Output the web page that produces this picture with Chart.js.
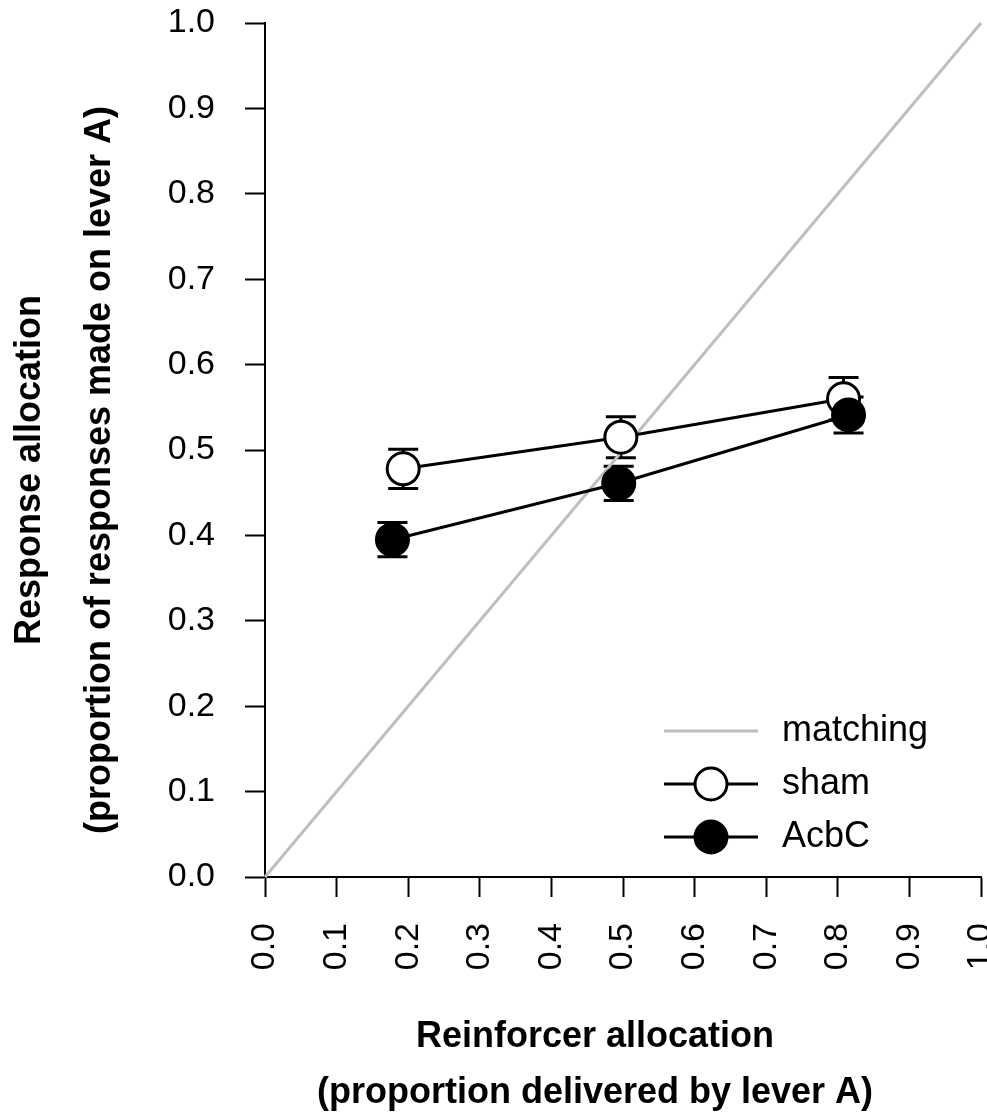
<!DOCTYPE html>
<html>
<head>
<meta charset="utf-8">
<script src="https://cdn.jsdelivr.net/npm/chart.js@4"></script>
<style>
  body { margin: 0; background: #fff; overflow: hidden; }
  canvas { display: block; }
</style>
</head>
<body>
<!-- a bit wider than the window so the x scale can run to x=980; the "1.0" label gets cut at the edge like the original -->
<canvas id="matchChart" width="1000" height="1117"></canvas>
<script>
// values
const shamReinforcer = [0.193, 0.497, 0.808];
const shamResponse = [0.478, 0.515, 0.560];
const shamErr = [0.023, 0.024, 0.025];

const acbcReinforcer = [0.178, 0.494, 0.815];
const acbcResponse = [0.395, 0.461, 0.541];
const acbcErr = [0.020, 0.020, 0.021];

const matchingX = [0, 1];
const matchingY = [0, 1];

const axisMin = 0;
const axisMax = 1;
const tickStep = 0.1;

const xTitle = ['Reinforcer allocation', '(proportion delivered by lever A)'];
const yTitle = ['Response allocation', '(proportion of responses made on lever A)'];

const FONT = '"Liberation Sans", Arial, Helvetica, sans-serif';

const toPoints = (xs, ys) => xs.map((x, i) => ({ x: x, y: ys[i] }));

// error bars, drawn under the points
const errorBars = {
    id: 'errorBars',
    beforeDatasetsDraw(chart) {
        const { ctx, scales: { x, y } } = chart;
        const groups = [
            [shamReinforcer, shamResponse, shamErr],
            [acbcReinforcer, acbcResponse, acbcErr]
        ];
        ctx.save();
        ctx.strokeStyle = '#000';
        ctx.lineWidth = 3;
        groups.forEach(([xs, ys, es]) => {
            xs.forEach((v, i) => {
                const px = x.getPixelForValue(v);
                const top = y.getPixelForValue(ys[i] + es[i]);
                const bot = y.getPixelForValue(ys[i] - es[i]);
                ctx.beginPath();
                ctx.moveTo(px, top); ctx.lineTo(px, bot);
                ctx.moveTo(px - 15, top); ctx.lineTo(px + 15, top);
                ctx.moveTo(px - 15, bot); ctx.lineTo(px + 15, bot);
                ctx.stroke();
            });
        });
        ctx.restore();
    }
};

// two-line axis titles, placed like the original figure
const axisTitles = {
    id: 'axisTitles',
    afterDraw(chart) {
        const ctx = chart.ctx;
        ctx.save();
        ctx.fillStyle = '#000';
        ctx.font = 'bold 36px ' + FONT;
        ctx.textAlign = 'center';
        ctx.textBaseline = 'middle';
        xTitle.forEach((t, i) => ctx.fillText(t, 595, 1037 + i * 56));
        ctx.translate(0, 470);
        ctx.rotate(-Math.PI / 2);
        yTitle.forEach((t, i) => ctx.fillText(t, 0, 30 + i * 70));
        ctx.restore();
    }
};

// legend in the lower right of the plot
const cornerLegend = {
    id: 'cornerLegend',
    afterDraw(chart) {
        const ctx = chart.ctx;
        const x0 = 664, x1 = 758, tx = 782;
        const rows = [
            { label: 'matching', y: 731, color: '#bebebe', point: null },
            { label: 'sham', y: 784, color: '#000', point: '#fff' },
            { label: 'AcbC', y: 837, color: '#000', point: '#000' }
        ];
        ctx.save();
        rows.forEach(r => {
            ctx.strokeStyle = r.color;
            ctx.lineWidth = 3;
            ctx.beginPath();
            ctx.moveTo(x0, r.y); ctx.lineTo(x1, r.y);
            ctx.stroke();
            if (r.point) {
                ctx.beginPath();
                ctx.arc((x0 + x1) / 2, r.y, 16, 0, Math.PI * 2);
                ctx.fillStyle = r.point;
                ctx.fill();
                ctx.strokeStyle = '#000';
                ctx.stroke();
            }
            ctx.fillStyle = '#000';
            ctx.font = '36px ' + FONT;
            ctx.textAlign = 'left';
            ctx.textBaseline = 'middle';
            ctx.fillText(r.label, tx, r.y);
        });
        ctx.restore();
    }
};

new Chart(document.getElementById('matchChart'), {
    type: 'scatter',
    data: {
        datasets: [
            {
                label: 'AcbC',
                data: toPoints(acbcReinforcer, acbcResponse),
                showLine: true,
                borderColor: '#000',
                borderWidth: 3,
                pointRadius: 16,
                pointBorderWidth: 3,
                pointBackgroundColor: '#000',
                pointBorderColor: '#000',
                order: 0
            },
            {
                label: 'sham',
                data: toPoints(shamReinforcer, shamResponse),
                showLine: true,
                borderColor: '#000',
                borderWidth: 3,
                pointRadius: 16,
                pointBorderWidth: 3,
                pointBackgroundColor: '#fff',
                pointBorderColor: '#000',
                order: 1
            },
            {
                label: 'matching',
                data: toPoints(matchingX, matchingY),
                showLine: true,
                borderColor: '#bebebe',
                borderWidth: 3,
                pointRadius: 0,
                order: 2
            }
        ]
    },
    options: {
        responsive: false,
        animation: false,
        clip: false,
        layout: { padding: { top: 23, right: 0, left: 0, bottom: 0 } },
        plugins: {
            legend: { display: false },
            tooltip: { enabled: false }
        },
        scales: {
            x: {
                type: 'linear',
                min: axisMin,
                max: axisMax,
                afterFit(scale) {
                    scale.paddingLeft = 0;
                    scale.paddingRight = 0;
                    scale.height = 240;
                },
                ticks: {
                    stepSize: tickStep,
                    minRotation: 90,
                    maxRotation: 90,
                    padding: 26,
                    color: '#000',
                    font: { family: FONT, size: 34 },
                    callback: v => v.toFixed(1)
                },
                grid: { drawOnChartArea: false, drawTicks: true, tickLength: 20, tickWidth: 2, tickColor: '#000' },
                border: { display: true, color: '#000', width: 2 }
            },
            y: {
                type: 'linear',
                min: axisMin,
                max: axisMax,
                afterFit(scale) {
                    scale.paddingTop = 0;
                    scale.paddingBottom = 0;
                    scale.width = 265;
                },
                ticks: {
                    stepSize: tickStep,
                    padding: 30,
                    color: '#000',
                    font: { family: FONT, size: 34 },
                    callback: v => v.toFixed(1)
                },
                grid: { drawOnChartArea: false, drawTicks: true, tickLength: 20, tickWidth: 2, tickColor: '#000' },
                border: { display: true, color: '#000', width: 2 }
            }
        }
    },
    plugins: [errorBars, axisTitles, cornerLegend]
});
</script>
</body>
</html>
